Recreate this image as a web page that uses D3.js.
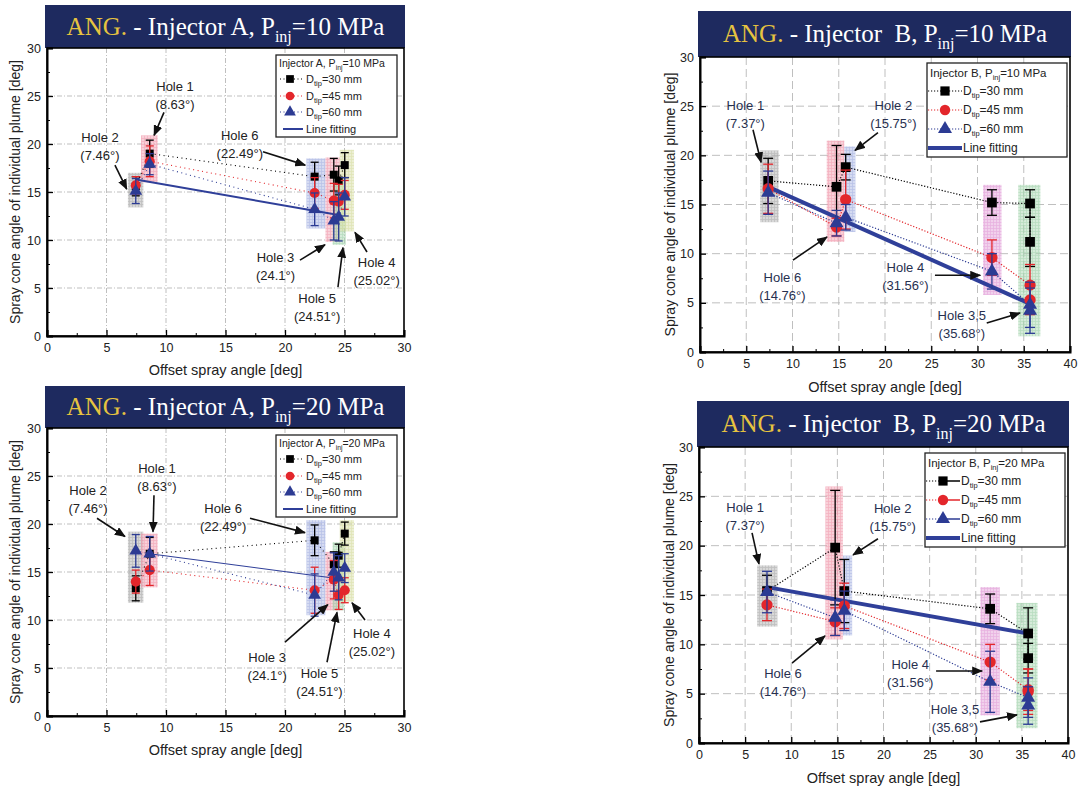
<!DOCTYPE html>
<html>
<head>
<meta charset="utf-8">
<script src="https://cdn.jsdelivr.net/npm/d3@7"></script>
<style>
  body { margin: 0; background: #fff; }
  text { font-family: "Liberation Sans", Arial, sans-serif; }
</style>
</head>
<body>
<script>
// Spray cone angle vs offset spray angle - 4 panels (Injector A / B, 10 / 20 MPa)

// ---- data ----
const holesA = ["Hole 2", "Hole 1", "Hole 6", "Hole 3", "Hole 5", "Hole 4"];
const offsetA = [7.46, 8.63, 22.49, 24.1, 24.51, 25.02];
const holesB = ["Hole 1", "Hole 6", "Hole 2", "Hole 4", "Hole 3", "Hole 5"];
const offsetB = [7.37, 14.76, 15.75, 31.56, 35.68, 35.68];

const seriesNames = ["30", "45", "60"];

// Injector A, 10 MPa
const a10d30 = [15.6, 19.0, 16.6, 16.8, 16.2, 17.8];
const a10d30Err = [1.0, 1.4, 1.5, 1.7, 1.5, 1.3];
const a10d45 = [15.7, 18.2, 14.9, 14.1, 14.0, 14.7];
const a10d45Err = [0.9, 1.6, 1.6, 1.8, 1.8, 1.5];
const a10d60 = [15.1, 17.9, 13.2, 12.0, 12.4, 14.5];
const a10d60Err = [1.3, 1.1, 1.7, 2.0, 2.5, 2.0];
const a10FitX = [7.46, 24.51];
const a10FitY = [16.3, 12.6];

// Injector A, 20 MPa
const a20d30 = [13.3, 16.9, 18.3, 15.8, 16.7, 19.0];
const a20d30Err = [1.3, 1.7, 1.6, 1.3, 1.2, 1.2];
const a20d45 = [14.0, 15.2, 13.1, 14.2, 12.6, 13.1];
const a20d45Err = [1.2, 1.6, 2.4, 2.0, 1.5, 1.3];
const a20d60 = [17.2, 16.9, 12.6, 15.0, 14.4, 15.4];
const a20d60Err = [1.7, 1.8, 2.2, 2.0, 2.3, 1.5];
const a20FitX = [8.63, 24.51];
const a20FitY = [16.9, 14.3];

// Injector B, 10 MPa
const b10d30 = [17.4, 16.8, 18.8, 15.2, 15.1, 11.2];
const b10d30Err = [2.3, 4.2, 1.3, 1.3, 1.4, 2.5];
const b10d45 = [16.6, 12.7, 15.5, 9.6, 6.8, 5.3];
const b10d45Err = [2.5, 0.9, 3.0, 1.8, 2.1, 1.5];
const b10d60 = [16.2, 13.1, 13.7, 8.2, 4.8, 4.2];
const b10d60Err = [2.2, 1.3, 1.3, 1.8, 2.3, 2.3];
const b10FitX = [7.37, 35.68];
const b10FitY = [16.8, 4.9];

// Injector B, 20 MPa
const b20d30 = [15.4, 19.8, 15.4, 13.6, 11.1, 8.6];
const b20d30Err = [1.6, 5.8, 3.2, 1.5, 2.6, 1.5];
const b20d45 = [14.0, 12.3, 13.9, 8.2, 5.4, 5.2];
const b20d45Err = [1.6, 1.4, 2.3, 1.8, 2.1, 2.3];
const b20d60 = [15.3, 12.7, 13.4, 6.2, 4.6, 3.8];
const b20d60Err = [2.1, 1.8, 2.0, 3.1, 2.0, 1.9];
const b20FitX = [7.37, 35.68];
const b20FitY = [15.8, 11.1];

// shaded hole regions [x0, x1, y0, y1, colour]
const a10Regions = [[6.8, 8.1, 13.4, 17.0, "gray"], [7.9, 9.3, 16.0, 20.9, "pink"], [21.8, 23.4, 11.2, 18.5, "blue"],
  [23.4, 24.6, 9.8, 18.6, "pink"], [24.0, 25.1, 9.5, 16.5, "green"], [24.6, 25.8, 10.9, 19.4, "olive"]];
const a20Regions = [[6.8, 8.1, 11.8, 19.2, "gray"], [7.9, 9.3, 13.4, 19.0, "pink"], [21.8, 23.4, 10.5, 20.4, "blue"],
  [23.4, 24.6, 11.0, 17.1, "pink"], [24.0, 25.0, 11.0, 18.1, "green"], [24.6, 25.8, 11.9, 20.4, "olive"]];
const b10Regions = [[6.5, 8.5, 13.2, 20.5, "gray"], [13.7, 15.6, 11.2, 21.5, "pink"], [15.6, 16.8, 12.2, 20.9, "blue"],
  [30.6, 32.6, 5.8, 17.0, "purple"], [34.4, 36.8, 1.6, 17.0, "green"]];
const b20Regions = [[6.3, 8.5, 11.8, 18.0, "gray"], [13.7, 15.6, 10.5, 26.0, "pink"], [15.6, 16.6, 10.9, 19.0, "blue"],
  [30.5, 32.6, 2.8, 15.8, "purple"], [34.4, 36.7, 1.5, 14.2, "green"]];

// hole labels: name, angle, text pos, arrow start, arrow end (data units)
const a10Notes = [
  ["Hole 1", "(8.63°)", 10.76, 26.0, 9.83, 23.3, 9.0, 20.9],
  ["Hole 2", "(7.46°)", 4.45, 20.7, 5.71, 17.8, 6.7, 15.3],
  ["Hole 6", "(22.49°)", 16.2, 20.9, 18.15, 19.2, 21.7, 17.8],
  ["Hole 3", "(24.1°)", 19.2, 8.2, 21.26, 7.9, 23.36, 9.5],
  ["Hole 5", "(24.51°)", 22.7, 3.96, 24.45, 5.1, 24.87, 9.2],
  ["Hole 4", "(25.02°)", 27.7, 7.7, 26.89, 8.75, 25.88, 10.8]];
const a20Notes = [
  ["Hole 2", "(7.46°)", 3.45, 23.5, 4.2, 20.6, 6.55, 18.7],
  ["Hole 1", "(8.63°)", 9.24, 25.8, 8.99, 23.0, 8.91, 19.2],
  ["Hole 6", "(22.49°)", 14.8, 21.7, 17.06, 20.6, 21.68, 19.1],
  ["Hole 3", "(24.1°)", 18.5, 6.15, 20.0, 7.7, 23.6, 11.6],
  ["Hole 5", "(24.51°)", 22.9, 4.5, 23.53, 5.6, 24.37, 10.8],
  ["Hole 4", "(25.02°)", 27.3, 8.65, 26.72, 10.0, 25.63, 11.8]];
const b10Notes = [
  ["Hole 1", "(7.37°)", 4.9, 25.1, 5.73, 22.6, 6.6, 19.3],
  ["Hole 2", "(15.75°)", 20.9, 25.1, 19.24, 22.3, 16.76, 20.5],
  ["Hole 6", "(14.76°)", 8.9, 7.6, 10.05, 9.35, 13.73, 11.7],
  ["Hole 4", "(31.56°)", 22.2, 8.6, 25.4, 7.8, 30.3, 7.8],
  ["Hole 3,5", "(35.68°)", 28.3, 3.75, 31.0, 2.94, 34.6, 3.96]];
const b20Notes = [
  ["Hole 1", "(7.37°)", 5.0, 23.9, 5.75, 21.3, 6.5, 18.15],
  ["Hole 2", "(15.75°)", 21.0, 23.8, 19.4, 20.7, 16.7, 19.06],
  ["Hole 6", "(14.76°)", 9.1, 7.1, 10.08, 8.1, 13.66, 10.85],
  ["Hole 4", "(31.56°)", 22.9, 8.0, 25.7, 7.3, 30.7, 7.3],
  ["Hole 3,5", "(35.68°)", 27.75, 3.46, 30.46, 2.14, 34.47, 2.85]];

// ---- styles ----
const seriesColor = ["#000000", "#e3262b", "#2c3b93"];
const seriesSymbol = [d3.symbolSquare, d3.symbolCircle, d3.symbolTriangle];
const regionColor = { gray: "#a9a9a9", pink: "#f09aac", blue: "#a3afe0", green: "#a2d3ac", olive: "#d5dca0", purple: "#e09ad6" };

const svg = d3.select("body").append("svg")
  .attr("width", 1078)
  .attr("height", 791);

const defs = svg.append("defs");
Object.entries(regionColor).forEach(([k, c]) => {
  const pat = defs.append("pattern")
    .attr("id", "pat-" + k)
    .attr("width", 3).attr("height", 3)
    .attr("patternUnits", "userSpaceOnUse");
  pat.append("rect").attr("width", 3).attr("height", 3).attr("fill", c).attr("opacity", 0.45);
  pat.append("path").attr("d", "M0,0.5H3M0.5,0V3").attr("stroke", c).attr("stroke-width", 0.7).attr("opacity", 0.6);
});
defs.append("marker")
  .attr("id", "arrow")
  .attr("markerUnits", "userSpaceOnUse")
  .attr("markerWidth", 11).attr("markerHeight", 9)
  .attr("refX", 10).attr("refY", 4.5)
  .attr("orient", "auto")
  .append("path").attr("d", "M0,0 L11,4.5 L0,9 z").attr("fill", "#111");

const panels = [
  { plot: [47, 404, 48, 336], xMax: 30, bannerH: 43, injector: "Injector A", pres: "10",
    vals: [a10d30, a10d45, a10d60], errs: [a10d30Err, a10d45Err, a10d60Err], offs: offsetA,
    fitX: a10FitX, fitY: a10FitY, fitW: 2, regions: a10Regions, notes: a10Notes, kind: "A" },
  { plot: [47, 404, 428, 716], xMax: 30, bannerH: 42, injector: "Injector A", pres: "20",
    vals: [a20d30, a20d45, a20d60], errs: [a20d30Err, a20d45Err, a20d60Err], offs: offsetA,
    fitX: a20FitX, fitY: a20FitY, fitW: 1.1, regions: a20Regions, notes: a20Notes, kind: "A" },
  { plot: [700, 1070, 57, 352], xMax: 40, bannerH: 46, injector: "Injector  B", pres: "10",
    vals: [b10d30, b10d45, b10d60], errs: [b10d30Err, b10d45Err, b10d60Err], offs: offsetB,
    fitX: b10FitX, fitY: b10FitY, fitW: 4, regions: b10Regions, notes: b10Notes, kind: "B", legendSolid: false },
  { plot: [699, 1068, 447, 743], xMax: 40, bannerH: 46, injector: "Injector  B", pres: "20",
    vals: [b20d30, b20d45, b20d60], errs: [b20d30Err, b20d45Err, b20d60Err], offs: offsetB,
    fitX: b20FitX, fitY: b20FitY, fitW: 4, regions: b20Regions, notes: b20Notes, kind: "B", legendSolid: true }
];

panels.forEach(drawPanel);

function drawPanel(p) {
  const [L, R, T, B] = p.plot;
  const isA = p.kind === "A";
  const x = d3.scaleLinear().domain([0, p.xMax]).range([L, R]);
  const y = d3.scaleLinear().domain([0, 30]).range([B, T]);
  const g = svg.append("g");

  // banner
  g.append("rect")
    .attr("x", L - 2).attr("y", T - p.bannerH)
    .attr("width", R - L + 3).attr("height", p.bannerH)
    .attr("fill", "#1e2a5f");
  const title = g.append("text")
    .attr("x", (L + R) / 2).attr("y", T - p.bannerH / 2 + 8)
    .attr("text-anchor", "middle")
    .attr("font-size", 25)
    .style("font-family", "'Liberation Serif', 'Times New Roman', serif")
    .style("white-space", "pre")
    .attr("fill", "#fff");
  title.append("tspan").attr("fill", "#e6c33f").text("ANG.");
  title.append("tspan").text(" - " + p.injector + ", P");
  title.append("tspan").attr("font-size", 16).attr("dy", 7).text("inj");
  title.append("tspan").attr("dy", -7).text("=" + p.pres + " MPa");

  // grid
  const gridDash = isA ? "5,2,1,2" : "8,4";
  g.append("g").selectAll("line")
    .data(d3.range(5, p.xMax, 5)).join("line")
    .attr("x1", d => x(d)).attr("x2", d => x(d))
    .attr("y1", T).attr("y2", B)
    .attr("stroke", "#b8b8b8").attr("stroke-width", 0.9).attr("stroke-dasharray", gridDash);
  g.append("g").selectAll("line")
    .data(d3.range(5, 30, 5)).join("line")
    .attr("x1", L).attr("x2", R)
    .attr("y1", d => y(d)).attr("y2", d => y(d))
    .attr("stroke", "#b8b8b8").attr("stroke-width", 0.9).attr("stroke-dasharray", gridDash);

  // shaded hole regions
  g.append("g").selectAll("rect")
    .data(p.regions).join("rect")
    .attr("x", d => x(d[0])).attr("width", d => x(d[1]) - x(d[0]))
    .attr("y", d => y(d[3])).attr("height", d => y(d[2]) - y(d[3]))
    .attr("fill", d => "url(#pat-" + d[4] + ")");

  // dotted connecting lines
  p.vals.forEach((vals, s) => {
    const line = d3.line().x((d, i) => x(p.offs[i])).y(d => y(d));
    g.append("path")
      .attr("d", line(vals))
      .attr("fill", "none")
      .attr("stroke", seriesColor[s])
      .attr("stroke-width", isA ? 1.1 : 1.2)
      .attr("stroke-dasharray", isA ? "1,3.5" : "1.2,1.8");
  });

  // line fitting
  const fit = d3.line().x(d => x(d[0])).y(d => y(d[1]));
  g.append("path")
    .attr("d", fit(d3.zip(p.fitX, p.fitY)))
    .attr("fill", "none")
    .attr("stroke", "#2f3f99")
    .attr("stroke-width", p.fitW);

  // error bars and markers
  const cap = isA ? 4 : 5;
  p.vals.forEach((vals, s) => {
    const eb = g.append("g").attr("stroke", seriesColor[s]).attr("stroke-width", 1.3);
    vals.forEach((v, i) => {
      const e = p.errs[s][i];
      const cx = x(p.offs[i]);
      eb.append("line").attr("x1", cx).attr("x2", cx).attr("y1", y(v - e)).attr("y2", y(v + e));
      eb.append("line").attr("x1", cx - cap).attr("x2", cx + cap).attr("y1", y(v - e)).attr("y2", y(v - e));
      eb.append("line").attr("x1", cx - cap).attr("x2", cx + cap).attr("y1", y(v + e)).attr("y2", y(v + e));
    });
    const sizes = isA ? [64, 80, 70] : [95, 100, 85];
    g.append("g").selectAll("path")
      .data(vals).join("path")
      .attr("transform", (d, i) => `translate(${x(p.offs[i])},${y(d)})`)
      .attr("d", d3.symbol().type(seriesSymbol[s]).size(sizes[s]))
      .attr("fill", seriesColor[s]);
  });

  // axes
  const xAxis = g.append("g").attr("transform", `translate(0,${B})`)
    .call(d3.axisBottom(x).tickValues(d3.range(0, p.xMax + 1, 5)).tickSize(-6).tickPadding(7));
  g.append("g").attr("transform", `translate(0,${B})`)
    .call(d3.axisBottom(x).tickValues(d3.range(2.5, p.xMax, 5)).tickSize(-3).tickFormat(""))
    .select(".domain").remove();
  const yAxis = g.append("g").attr("transform", `translate(${L},0)`)
    .call(d3.axisLeft(y).tickValues(d3.range(0, 31, 5)).tickSize(-6).tickPadding(6));
  g.append("g").attr("transform", `translate(${L},0)`)
    .call(d3.axisLeft(y).tickValues(d3.range(2.5, 30, 5)).tickSize(-3).tickFormat(""))
    .select(".domain").remove();
  [xAxis, yAxis].forEach(a => {
    a.selectAll("text").attr("font-size", 12.5).attr("fill", "#222")
      .style("font-family", "'Liberation Sans', Arial, sans-serif");
    a.selectAll(".tick line").attr("stroke-width", 1.3);
  });
  g.selectAll(".domain").attr("stroke-width", 2);
  g.append("rect")
    .attr("x", L).attr("y", T).attr("width", R - L).attr("height", B - T)
    .attr("fill", "none").attr("stroke", "#000").attr("stroke-width", 1.6);

  // axis titles
  g.append("text")
    .attr("x", (L + R) / 2).attr("y", B + (isA ? 39 : 40))
    .attr("text-anchor", "middle").attr("font-size", 14.5).attr("fill", "#222")
    .text("Offset spray angle [deg]");
  g.append("text")
    .attr("transform", `translate(${L - (isA ? 27 : 25)},${(T + B) / 2}) rotate(-90)`)
    .attr("text-anchor", "middle").attr("font-size", 14).attr("fill", "#222")
    .text("Spray cone angle of individual plume [deg]");

  // hole annotations
  const noteColor = isA ? "#222" : "#27304f";
  p.notes.forEach(n => {
    g.append("text")
      .attr("x", x(n[2])).attr("y", y(n[3]) + 5)
      .attr("text-anchor", "middle").attr("font-size", 13).attr("fill", noteColor)
      .text(n[0]);
    g.append("text")
      .attr("x", x(n[2])).attr("y", y(n[3]) + 23)
      .attr("text-anchor", "middle").attr("font-size", 13).attr("fill", noteColor)
      .text(n[1]);
    g.append("line")
      .attr("x1", x(n[4])).attr("y1", y(n[5]))
      .attr("x2", x(n[6])).attr("y2", y(n[7]))
      .attr("stroke", "#111").attr("stroke-width", 1.6)
      .attr("marker-end", "url(#arrow)");
  });

  // legend
  const lw = isA ? 121 : 140, lh = isA ? 82 : 94;
  const lx = R - (isA ? 7 : 3) - lw, ly = T + (isA ? 7 : 6);
  const lg = g.append("g").attr("transform", `translate(${lx},${ly})`);
  lg.append("rect").attr("width", lw).attr("height", lh)
    .attr("fill", "#fff").attr("stroke", "#222").attr("stroke-width", 1.3);
  const fs = isA ? 10.5 : 11.5;
  const lt = lg.append("text").attr("x", 3).attr("y", isA ? 12 : 14).attr("font-size", fs).attr("fill", "#222");
  lt.append("tspan").text(p.injector.replace("  ", " ") + ", P");
  lt.append("tspan").attr("font-size", fs * 0.65).attr("dy", 3).text("inj");
  lt.append("tspan").attr("dy", -3).text("=" + p.pres + " MPa");
  const rows = isA ? [24, 41, 57, 74] : [28, 47, 66, 85];
  const l0 = isA ? 4 : 1, l1 = isA ? 27 : 35, mk = isA ? 14 : 18, tx = isA ? 30 : 36;
  seriesNames.forEach((nm, s) => {
    const ry = rows[s];
    if (p.legendSolid) {
      lg.append("line").attr("x1", l0).attr("x2", mk).attr("y1", ry).attr("y2", ry)
        .attr("stroke", seriesColor[s]).attr("stroke-width", 1.2).attr("stroke-dasharray", "1.2,1.8");
      lg.append("line").attr("x1", mk).attr("x2", l1).attr("y1", ry).attr("y2", ry)
        .attr("stroke", seriesColor[s]).attr("stroke-width", 1.5);
    } else {
      lg.append("line").attr("x1", l0).attr("x2", l1).attr("y1", ry).attr("y2", ry)
        .attr("stroke", seriesColor[s]).attr("stroke-width", 1.2).attr("stroke-dasharray", isA ? "1,2.5" : "1.2,1.8");
    }
    lg.append("path")
      .attr("transform", `translate(${mk},${ry})`)
      .attr("d", d3.symbol().type(seriesSymbol[s]).size(isA ? 60 : 85))
      .attr("fill", seriesColor[s]);
    const t = lg.append("text").attr("x", tx).attr("y", ry + 4).attr("font-size", isA ? 11 : 12).attr("fill", "#222");
    t.append("tspan").text("D");
    t.append("tspan").attr("font-size", 7.5).attr("dy", 3).text("tip");
    t.append("tspan").attr("dy", -3).text("=" + nm + " mm");
  });
  const fy = rows[3];
  lg.append("line").attr("x1", isA ? 7 : l0).attr("x2", l1).attr("y1", fy).attr("y2", fy)
    .attr("stroke", "#2f3f99").attr("stroke-width", isA ? 2 : 4);
  lg.append("text").attr("x", tx).attr("y", fy + 4).attr("font-size", isA ? 11 : 12).attr("fill", "#222")
    .text("Line fitting");
}
</script>
</body>
</html>
